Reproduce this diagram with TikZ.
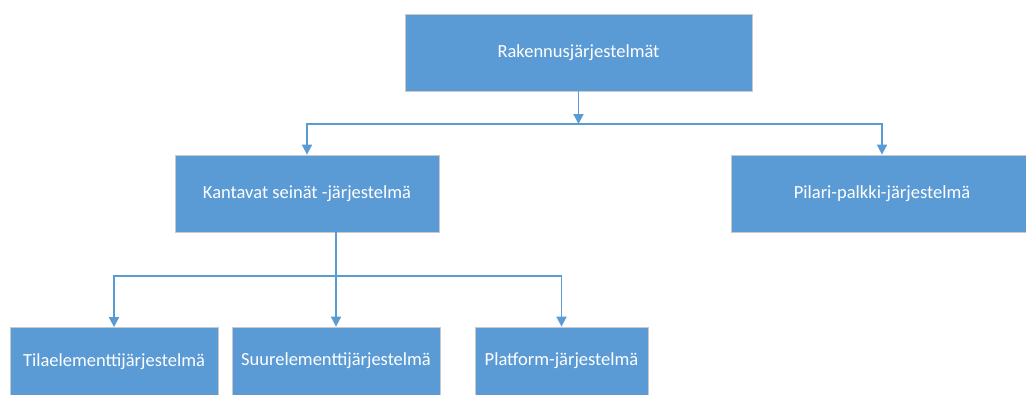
\documentclass[tikz,border=0pt]{standalone}
\usepackage{fontspec}
\setmainfont{Carlito}
\usetikzlibrary{arrows.meta,calc}
\definecolor{boxblue}{HTML}{5B9BD5}
\definecolor{boxedge}{HTML}{C9C9C9}
\definecolor{linkblue}{HTML}{5B9BD5}
\begin{document}
\begin{tikzpicture}[x=1pt,y=-1pt,
  box/.style={rectangle, fill=boxblue, draw=boxedge, line width=0.8pt, text=white,
    font=\fontsize{18.5}{22}\selectfont, inner sep=0pt, anchor=center},
  link/.style={draw=linkblue, line width=1.8pt},
  linkarrow/.style={link, -{Triangle[width=10pt,length=10pt]}}]
\useasboundingbox (0,0) rectangle (1026,394);
\clip (0,0) rectangle (1026,394);
\fill[white] (0,0) rectangle (1026,394);
% nodes
\node[box, minimum width=347pt, minimum height=77pt] (top) at (578.5,52.5) {Rakennusjärjestelmät};
\node[box, minimum width=264pt, minimum height=77pt] (kant) at (307,193.5) {Kantavat seinät -järjestelmä};
\node[box, minimum width=302pt, minimum height=77pt] (pil) at (882,193.5) {Pilari-palkki-järjestelmä};
\node[box, minimum width=208pt, minimum height=68pt] (tila) at (114,361.5) {Tilaelementtijärjestelmä};
\node[box, minimum width=208pt, minimum height=68pt] (suur) at (336,361) {Suurelementtijärjestelmä};
\node[box, minimum width=173pt, minimum height=68pt] (plat) at (561.5,361) {Platform-järjestelmä};
% junction coordinates
\coordinate (j1) at (578.5,124);
\coordinate (kout) at (336,232);
\coordinate (j2) at (336,276);
% connectors
\draw[linkarrow] (top.south) -- (j1);
\draw[linkarrow] (j1) -| (kant.north);
\draw[linkarrow] (j1) -| (pil.north);
\draw[link] (kout) -- (j2);
\draw[linkarrow] (j2) -| (tila.north);
\draw[linkarrow] (j2) -- (suur.north);
\draw[linkarrow] (j2) -| (plat.north);
\end{tikzpicture}
\end{document}
